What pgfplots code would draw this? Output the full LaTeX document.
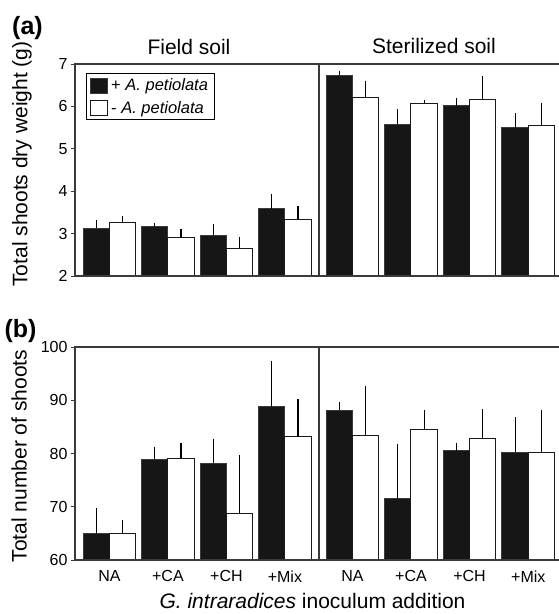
\documentclass[border=0pt]{standalone}
\usepackage{pgfplots}
\pgfplotsset{compat=1.18}
\usepackage{fontspec}
\setmainfont{Liberation Sans}
\definecolor{barblack}{HTML}{161616}
\definecolor{axisgray}{HTML}{3A3A3A}
\begin{document}
\begin{tikzpicture}
\path[use as bounding box] (0,0) rectangle (559pt,-614pt);
\pgfplotsset{
  myaxis/.style={
    scale only axis, width=484pt,
    xmin=-0.588, xmax=7.685,
    clip mode=individual,
    axis line style={draw=none},
    ytick pos=left, tick align=outside, major tick length=4pt,
    y tick style={draw=axisgray, line width=1pt},
    x tick style={draw=none},
    /pgf/number format/assume math mode=true,
    ticklabel style={font=\fontsize{16}{19}\selectfont},
    xticklabel style={yshift=-3pt},
  },
  blackbar/.style={ybar, bar width=0.45, bar shift=0pt, fill=barblack, draw=axisgray, line width=1pt,
    error bars/.cd, y dir=plus, y explicit, error mark=none, error bar style={line width=1.2pt, black}},
  whitebar/.style={ybar, bar width=0.45, bar shift=0pt, fill=white, draw=black!90, line width=1pt,
    error bars/.cd, y dir=plus, y explicit, error mark=none, error bar style={line width=1.2pt, black}},
}
% ---------------- panel (a)
\begin{axis}[myaxis, at={(75pt,-64pt)}, anchor=north west, height=212pt,
  ymin=2, ymax=7, ytick={2,3,4,5,6,7}, xtick=\empty,
  legend style={at={(0.0221,0.956)}, anchor=north west, draw=black, line width=1pt,
    font=\fontsize{16.5}{19}\selectfont, inner xsep=4pt, inner ysep=3pt, row sep=5pt,
    nodes={inner xsep=3pt}},
  legend cell align=left,
  legend image code/.code={\draw[#1, line width=1pt] (0pt,-7.5pt) rectangle (17pt,7.5pt);},
]
\addplot[blackbar] coordinates {
  (-0.225,3.13) +- (0,0.19)
  (0.775,3.16) +- (0,0.08)
  (1.775,2.96) +- (0,0.26)
  (2.775,3.59) +- (0,0.35)
  (3.930,6.73) +- (0,0.11)
  (4.930,5.58) +- (0,0.36)
  (5.930,6.02) +- (0,0.18)
  (6.935,5.50) +- (0,0.34)
};
\addlegendentry{+ \textit{A. petiolata}}
\addplot[whitebar] coordinates {
  (0.225,3.26) +- (0,0.16)
  (1.225,2.91) +- (0,0.21)
  (2.225,2.65) +- (0,0.28)
  (3.225,3.33) +- (0,0.33)
  (4.380,6.21) +- (0,0.40)
  (5.380,6.07) +- (0,0.09)
  (6.380,6.17) +- (0,0.54)
  (7.385,5.54) +- (0,0.54)
};
\addlegendentry{- \textit{A. petiolata}}
\draw[axisgray, line width=1.3pt] (rel axis cs:1,0) -- (rel axis cs:0,0) -- (rel axis cs:0,1) -- (rel axis cs:1,1);
\draw[axisgray, line width=1.3pt] (axis cs:3.583,2) -- (axis cs:3.583,7);
\end{axis}
% ---------------- panel (b)
\begin{axis}[myaxis, at={(75pt,-347pt)}, anchor=north west, height=213pt,
  ymin=60, ymax=100, ytick={60,70,80,90,100},
  xtick={0,1,2,3,4.155,5.155,6.155,7.16},
  xticklabels={NA,+CA,+CH,+Mix,NA,+CA,+CH,+Mix},
]
\addplot[blackbar] coordinates {
  (-0.225,64.95) +- (0,4.75)
  (0.775,78.9) +- (0,2.35)
  (1.775,78.2) +- (0,4.6)
  (2.775,88.8) +- (0,8.6)
  (3.930,88.15) +- (0,1.5)
  (4.930,71.5) +- (0,10.3)
  (5.930,80.5) +- (0,1.4)
  (6.935,80.2) +- (0,6.6)
};
\addplot[whitebar] coordinates {
  (0.225,64.95) +- (0,2.55)
  (1.225,79.1) +- (0,2.9)
  (2.225,68.8) +- (0,10.9)
  (3.225,83.1) +- (0,7.1)
  (4.380,83.45) +- (0,9.25)
  (5.380,84.5) +- (0,3.7)
  (6.380,82.8) +- (0,5.5)
  (7.385,80.1) +- (0,8.1)
};
\draw[axisgray, line width=1.3pt] (rel axis cs:1,0) -- (rel axis cs:0,0) -- (rel axis cs:0,1) -- (rel axis cs:1,1);
\draw[axisgray, line width=1.3pt] (axis cs:3.583,60) -- (axis cs:3.583,100);
\end{axis}
% ---------------- texts
\node[font=\bfseries\fontsize{25}{30}\selectfont] at (27.5pt,-28pt) {(a)};
\node[font=\bfseries\fontsize{25}{30}\selectfont] at (20.5pt,-331pt) {(b)};
\node[font=\fontsize{21}{25}\selectfont] at (189pt,-47pt) {Field soil};
\node[font=\fontsize{21}{25}\selectfont] at (434pt,-46pt) {Sterilized soil};
\node[font=\fontsize{21}{25}\selectfont, rotate=90] at (22pt,-164pt) {Total shoots dry weight (g)};
\node[font=\fontsize{21}{25}\selectfont, rotate=90] at (19pt,-456pt) {Total number of shoots};
\node[font=\fontsize{21}{25}\selectfont] at (312.5pt,-601pt) {\textit{G. intraradices} inoculum addition};
\end{tikzpicture}
\end{document}
